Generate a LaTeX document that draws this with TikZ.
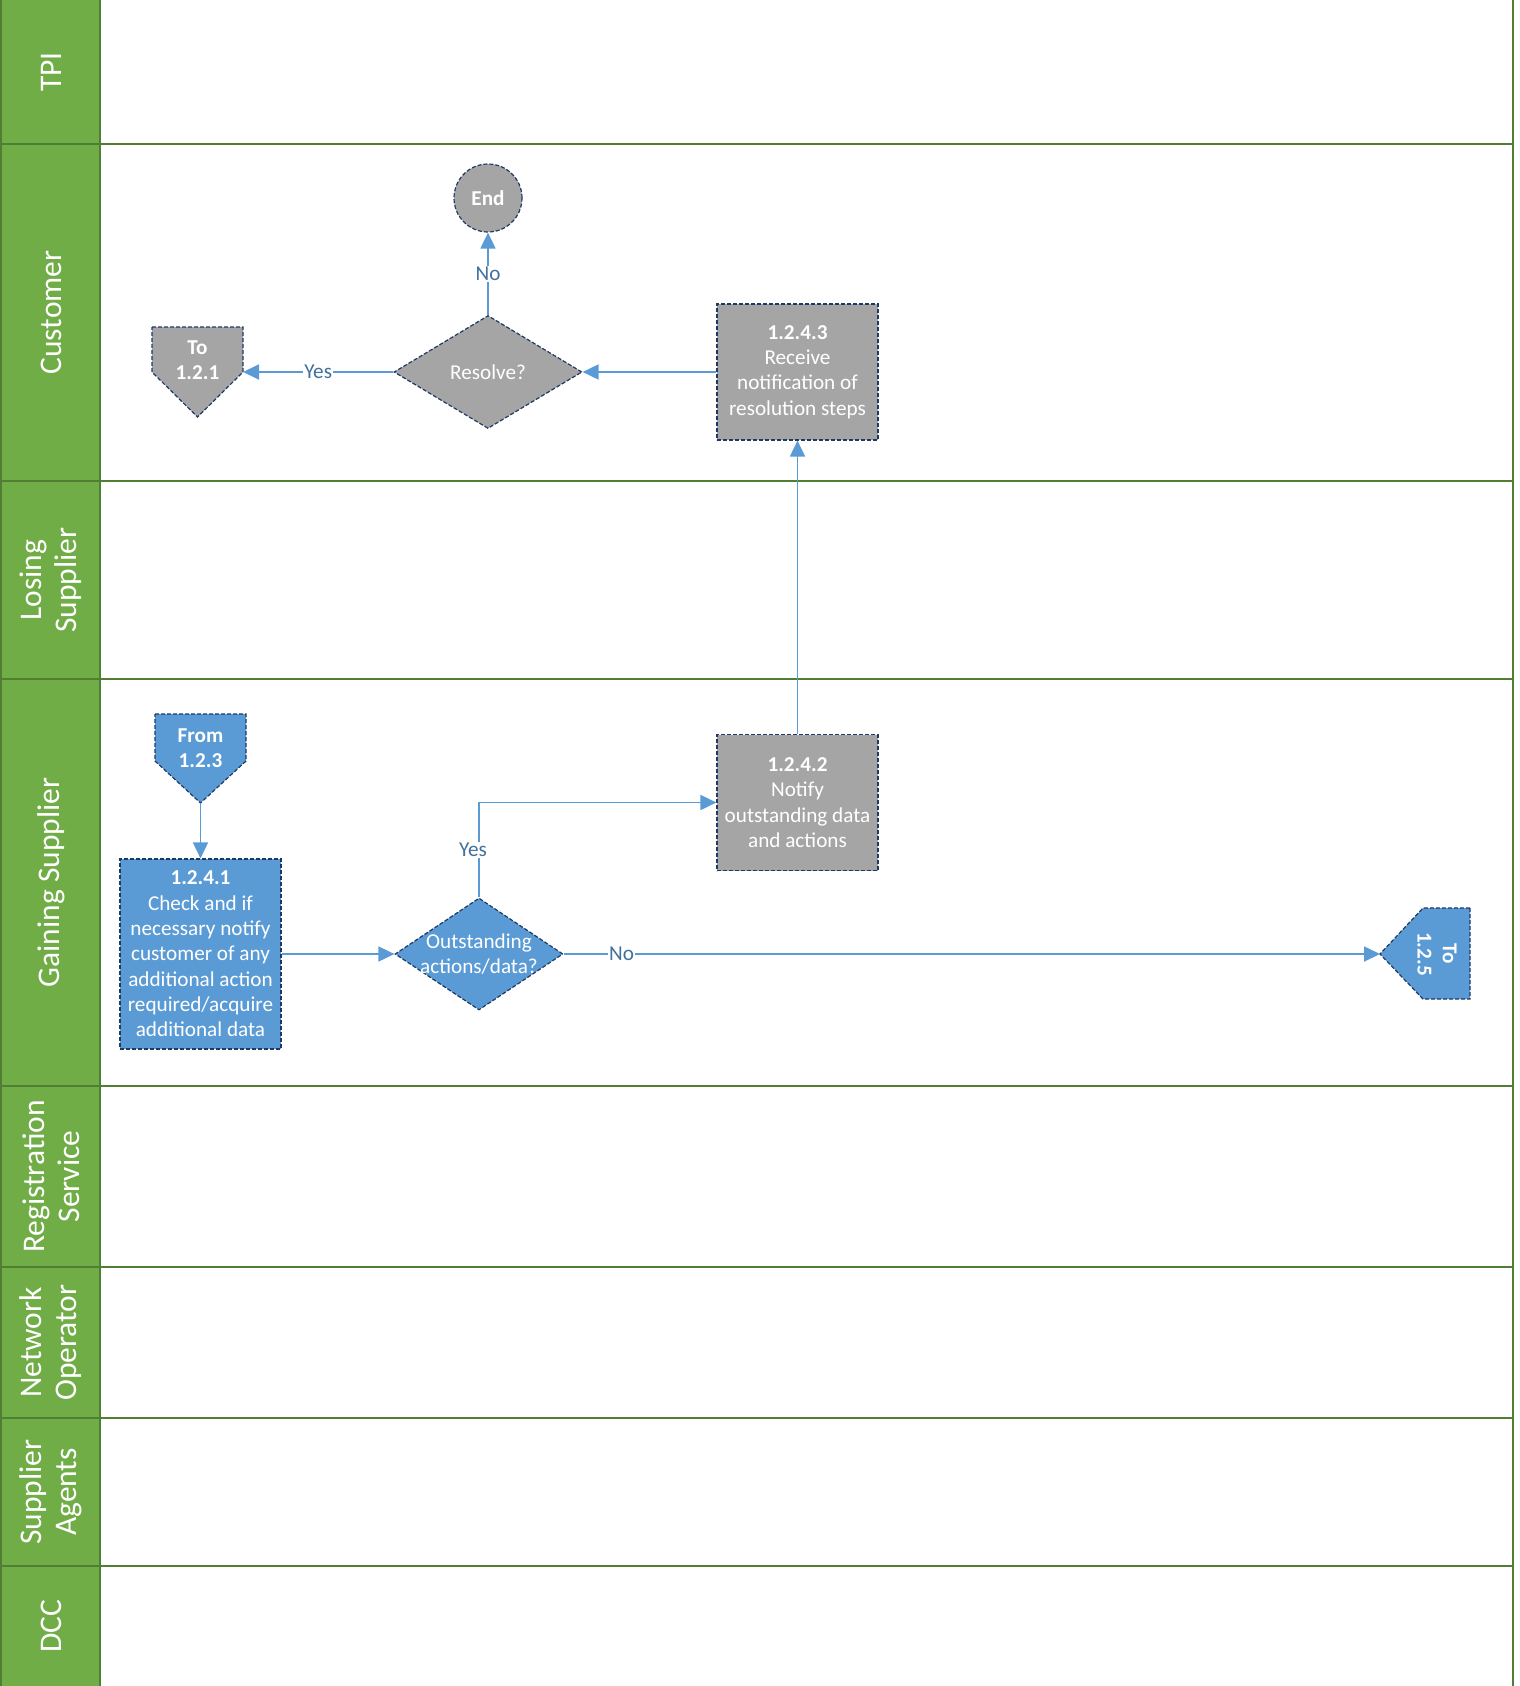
\documentclass[tikz,border=0pt]{standalone}
\usepackage{fontspec}
\setmainfont{Carlito}
\usetikzlibrary{shapes.geometric,arrows.meta}

\definecolor{headgreen}{HTML}{70AD47}
\definecolor{lanegreen}{HTML}{507E32}
\definecolor{taskblue}{HTML}{5B9BD5}
\definecolor{taskgray}{HTML}{A5A5A5}
\definecolor{edgenavy}{HTML}{203864}
\definecolor{flowblue}{HTML}{5B9BD5}
\definecolor{labelblue}{HTML}{41719C}

\newcommand{\nodefont}{\fontsize{21.2}{25.3}\selectfont}
\newcommand{\lanefont}{\fontsize{31.5}{35}\selectfont}

\tikzset{
  lanerule/.style={draw=lanegreen, line width=2},
  lanename/.style={rotate=90, text=white, align=center, font=\lanefont},
  shapeline/.style={draw=edgenavy, line width=1.2, dash pattern=on 4 off 2},
  stepbox/.style={shapeline, rectangle, minimum width=161, minimum height=136,
    inner sep=0, text=white, align=center, font=\nodefont},
  decision/.style={shapeline, diamond, inner sep=0},
  decisiontext/.style={text=white, align=center, font=\nodefont},
  reftext/.style={text=white, align=center, font=\nodefont\bfseries, inner sep=0},
  flow/.style={draw=flowblue, line width=1.8, -{Triangle[length=16,width=15]}},
  flowlabel/.style={fill=white, text=labelblue, font=\nodefont, inner sep=1}
}

\begin{document}
\begin{tikzpicture}[x=1pt, y=-1pt]
  \useasboundingbox (0,0) rectangle (1519,1686);

  % swim lanes
  \fill[headgreen] (2,0) rectangle (100,1686);
  \foreach \y in {144,481,679,1086,1267,1418,1566}
    \draw[lanerule] (1,\y) -- (1513,\y);
  \draw[lanerule] (1,0) -- (1,1686);
  \draw[lanerule] (100,0) -- (100,1686);
  \draw[lanerule] (1513,0) -- (1513,1686);

  \node[lanename] (tpi) at (51,72) {TPI};
  \node[lanename] (customer) at (51,312.5) {Customer};
  \node[lanename] (losing) at (51,580) {Losing\\Supplier};
  \node[lanename] (gaining) at (51,882.5) {Gaining Supplier};
  \node[lanename] (registration) at (51,1176.5) {Registration\\Service};
  \node[lanename] (network) at (51,1342.5) {Network\\Operator};
  \node[lanename] (agents) at (51,1492) {Supplier\\Agents};
  \node[lanename] (dcc) at (51,1626) {DCC};

  % off-page references
  \draw[shapeline, fill=taskgray]
    (152,327) -- (243,327) -- (243,372) coordinate (to121e)
    -- (197.5,417) -- (152,372) -- cycle;
  \node[reftext] (to121) at (197.5,360) {To\\1.2.1};

  \draw[shapeline, fill=taskblue]
    (155,714) -- (246,714) -- (246,761)
    -- (200.5,803) coordinate (from123s) -- (155,761) -- cycle;
  \node[reftext] (from123) at (200.5,748) {From\\1.2.3};

  \draw[shapeline, fill=taskblue]
    (1470,908) -- (1470,999) -- (1423,999)
    -- (1380,954) coordinate (to125w) -- (1423,908) -- cycle;
  \node[reftext, rotate=-90] (to125) at (1437,954) {To\\1.2.5};

  % process steps
  \node[circle, shapeline, fill=taskgray, minimum size=68, inner sep=0,
    text=white, font=\nodefont\bfseries] (end) at (488,198) {End};

  \node[decision, fill=taskgray, minimum width=188, minimum height=113,
    label={[decisiontext]center:Resolve?}] (resolve) at (488,372) {};

  \node[stepbox, fill=taskgray] (s1243) at (797.5,372)
    {\textbf{1.2.4.3}\\Receive\\notification of\\resolution steps};

  \node[stepbox, fill=taskgray] (s1242) at (797.5,802.5)
    {\textbf{1.2.4.2}\\Notify\\outstanding data\\and actions};

  \node[stepbox, fill=taskblue, minimum height=190] (s1241) at (200.5,954)
    {\textbf{1.2.4.1}\\Check and if\\necessary notify\\customer of any\\additional action\\required/acquire\\additional data};

  \node[decision, fill=taskblue, minimum width=168, minimum height=112,
    label={[decisiontext]center:Outstanding\\actions/data?}] (outst) at (479,954) {};

  % connectors
  \draw[flow] (s1243.west) -- (resolve.east);
  \draw[flow] (resolve.north) -- node[flowlabel] {No} (end.south);
  \draw[flow] (resolve.west) -- node[flowlabel] {Yes} (to121e);
  \draw[flow] (from123s) -- (s1241.north);
  \draw[flow] (s1241.east) -- (outst.west);
  \draw[flow] (outst.north) |- node[flowlabel, pos=0.25, xshift=-6] {Yes} (s1242.west);
  \draw[flow] (outst.east) -- node[flowlabel, pos=0.071] {No} (to125w);
  \draw[flow] (s1242.north) -- (s1243.south);
\end{tikzpicture}
\end{document}
